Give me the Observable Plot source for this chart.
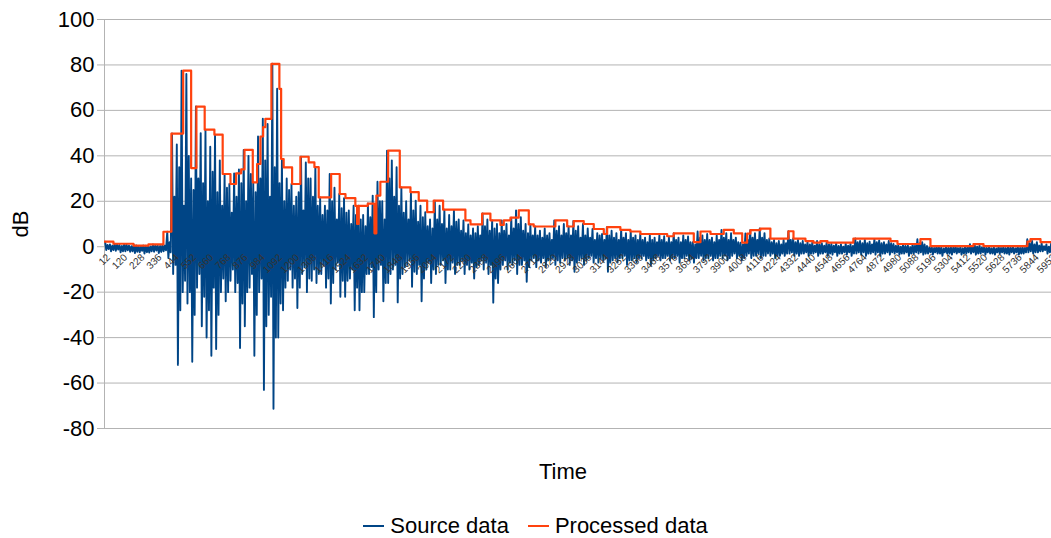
<!DOCTYPE html>
<html><head><meta charset="utf-8">
<script src="https://cdn.jsdelivr.net/npm/d3@7"></script>
<script src="https://cdn.jsdelivr.net/npm/@observablehq/plot@0.6"></script>
<style>
html,body{margin:0;padding:0;background:#fff;}
body{width:1051px;height:538px;overflow:hidden;font-family:"Liberation Sans",Arial,sans-serif;}
#legend{display:flex;justify-content:center;align-items:center;height:22px;padding-top:10px;padding-left:20px;font-size:22px;color:#000;}
.item{display:flex;align-items:center;}
.sw{width:21px;height:2.5px;margin-right:6px;}
</style></head><body>
<div id="chart"></div>
<div id="legend"></div>
<script>
// Source data: per bin of 30 samples, the largest upper and lower excursion (dB)
const binWidth = 30;
const srcHi = [
 2.2,1.0,1.3,0.8,1.2,0.5,0.8,0.3,0.5,0.2,1.0,0.6,0.9,6.6,
 49.8,45,77.5,76,30,61.7,50,51.5,44,49.3,38,32,27.6,32.3,34,42.6,
 40,28.3,48.5,56.3,54,80.5,69.5,38.6,30,27.6,22,39.6,37.1,30,35,21.7,
 18,32,26,23.2,21.4,16,18,18,14,19,22.5,28.6,20,42.3,38,35,26.1,20,
 24,20.3,18,15.2,12,20.3,18,16.3,14,16,12,11.6,9.8,8,9,14.6,12,11.6,
 10,11.6,10,12.8,16,13,10,9.8,8.9,7,8,6,11.6,9,10,8.9,11.3,9,10,8,
 7.8,6,5.6,8.6,7,6,7.4,6,6.7,5,5.6,4,5,4,5,4.6,4,5.9,4,5,4.5,2,
 6.7,5,5.6,4,5,7.4,6,5.9,4,1.8,5.8,7.3,6,8,6,3.6,3,2.5,3,6.8,3.6,3,
 2.5,2,1.8,2.5,1.5,1.8,1.2,1.5,1,1.4,1.2,3.6,2.5,3,2.2,3.4,2.8,2,2.5,
 1.2,0.8,1,0.6,1.1,3.3,2,0.3,0,0.2,-0.2,0.1,0,0.3,-0.1,0.2,1.1,0.8,
 0.5,0.3,0,-0.2,0.1,0,0.2,-0.1,0.1,0,3.3,2.5,2,1.5,1,1.5
];
const srcLo = [
 -1.5,-2,-1.8,-2.5,-2,-2.2,-2.8,-2.5,-3,-2.6,-2.2,-2.8,-2,-5,
 -12,-52,-20,-25,-50.6,-18,-35,-40,-48,-45,-20,-24,-15,-20,-44.6,-35,
 -18,-48,-20,-63,-30,-71.3,-40,-28,-15,-18,-27,-12,-20,-15,-16,-12,
 -18,-25,-10,-22,-22,-14,-28,-28,-20,-12,-31,-10,-24,-16,-10,-24.5,-12,-8,
 -17.6,-12,-24,-10,-16,-12,-8,-16,-10,-12,-8,-12,-10,-14,-8,-10,-12,-24.6,
 -16,-8,-10,-8,-12,-8,-15.4,-6,-9,-7,-9,-6,-8,-7,-6,-8,-11,-6,-8,-5,
 -7,-7,-6,-11,-6,-7,-5,-8,-6,-7,-5,-6,-8,-5,-6,-5,-6,-5,-7,-5,-6,-7,
 -5,-6,-5,-6,-5,-5,-6,-4,-5,-6,-4,-5,-4,-5,-4,-4,-5,-4,-4,-3,-4,-4,
 -3,-4,-3,-4,-3,-4,-3.5,-4,-3,-3.5,-4,-3,-3.5,-4,-3,-3.5,-4,-3,-3.5,
 -3,-3.5,-3,-4,-3,-3,-3.5,-3,-3.5,-3,-4,-3,-3.5,-3,-3.5,-3,-3,-3.5,
 -3,-3.5,-3,-3.5,-3,-3,-3.5,-3,-3.5,-3,-2.5,-3,-2.5,-2,-3,-2
];
// Source data: secondary (inner) upper and lower excursion in each bin (dB)
const coreHi = [
 0.8,0.5,1,0.3,0.9,0.2,0.6,0,0.4,0.1,0.7,0.3,0.5,2,
 22,35,18,40,25,30,
 28,20,33,24,18,26,15,22,28,20,
 32,24,30,38,22,35,28,20,25,18,
 24,16,30,22,18,14,16,20,12,17,
 15,10,14,12,9,13,16,20,12,30,
 22,18,15,12,16,11,13,9,8,12,
 10,8,9,11,7,6,5,6,5,9,
 7,8,6,7,5,8,10,7,6,5,
 5,4,5,3,7,5,6,5,7,4,
 5,4,3,5,3,5,4,3,4,3,
 4,3,3,2,3,2,3,2,2,3,
 2,3,2,1,4,3,3,2,3,4,
 3,3,2,1,3,4,3,4,3,2,
 1.5,1,1.5,3,2,1.5,1,1,0.5,1,
 0.5,1,0.5,0.3,0,0.5,0.3,2,1.5,1.5,
 1,2,1.5,1,1.5,0.5,0,0.3,-0.2,0.4,
 1.5,1,-0.3,-0.5,-0.2,-0.8,-0.5,-0.4,-0.6,-0.7,
 -0.4,0.3,0,-0.3,-0.5,-0.7,-0.8,-0.5,-0.6,-0.4,
 -0.7,-0.5,-0.6,1.5,1,0.5,0.2,0,0.3
];
const coreLo = [
 -1,-1.5,-1.2,-2,-1.6,-2,-2.2,-1.8,-2.4,-2,-1.7,-2.3,-1.6,-2.5,
 -8,-28,-15,-20,-30,-12,
 -22,-28,-18,-30,-14,-20,-10,-16,-25,-20,
 -12,-30,-14,-35,-22,-40,-25,-18,-10,-14,
 -18,-9,-14,-10,-12,-8,-14,-16,-7,-15,
 -15,-10,-18,-20,-12,-9,-20,-8,-16,-12,
 -8,-14,-9,-6,-11,-8,-14,-7,-10,-8,
 -6,-10,-7,-8,-6,-8,-7,-9,-6,-7,
 -8,-14,-10,-6,-7,-6,-8,-6,-9,-5,
 -6,-5,-6,-5,-6,-5,-5,-6,-7,-5,
 -6,-4,-5,-5,-5,-7,-5,-5,-4,-6,
 -5,-5,-4,-5,-6,-4,-5,-4,-5,-4,
 -5,-4,-5,-5,-4,-5,-4,-5,-4,-4,
 -5,-3,-4,-5,-3,-4,-3,-4,-3,-3,
 -4,-3,-3,-2.5,-3,-3,-2.5,-3,-2.5,-3,
 -2.5,-3,-2.5,-3,-2.5,-2.5,-3,-2.5,-2.5,-3,
 -2.5,-2.5,-3,-2.5,-2.5,-2.5,-3,-2.5,-3,-2.5,
 -2.5,-3,-2.5,-2.5,-3,-2.5,-3,-2.5,-2.5,-3,
 -2.5,-2.5,-3,-2.5,-2.5,-3,-2.5,-2.5,-3,-2.5,
 -2.5,-3,-2.5,-2,-2.5,-2,-1.5,-2.5,-1.5
];
// Processed data: step start sample and held level (dB)
const procT = [0,56,182,276,370,420,494,544,577,629,690,742,791,826,858,879,931,958,979,996,1010,1048,1098,1109,1125,1178,1230,1282,1318,1345,1423,1477,1513,1575,1586,1596,1653,1695,1707,1732,1781,1854,1921,1973,2026,2067,2126,2266,2298,2371,2423,2486,2507,2549,2601,2664,2695,2831,2905,2946,3009,3072,3135,3156,3239,3302,3365,3533,3574,3700,3742,3805,3888,3951,4004,4035,4056,4118,4181,4294,4326,4401,4451,4495,4539,4702,4935,4979,5123,5186,5456,5519,5795,5814,5877,5946];
const procV = [2.2,1.3,0.5,1.0,6.6,49.8,77.5,34.6,61.7,51.5,49.3,32,27.6,32.3,34,42.6,28.3,36.4,48.5,52.6,56.3,80.5,69.5,38.6,34.9,27.6,39.6,37.1,35,21.7,32,23.2,21.4,18,10,18,19,5.9,22.5,28.6,42.3,26.1,24,20.3,15.2,20.3,16.3,11.6,9.8,14.6,11.6,9.6,11.6,12.8,16,9.8,8.9,11.6,8.9,11.3,10,7.8,5.6,8.6,7.4,6.7,5.6,4.6,5.9,2,6.7,5.6,7.4,5.9,1.8,5.8,7.3,8,3.6,6.8,3.6,2.5,1.8,2.5,1.8,3.6,2.5,1.2,3.3,0.3,1.1,0.3,2.3,3.3,2,2];
const tickLabels = [12,120,228,336,444,552,660,768,876,984,1092,1200,1308,1416,1524,1632,1740,1848,1956,2064,2172,2280,2388,2496,2604,2712,2820,2928,3036,3144,3252,3360,3468,3576,3684,3792,3900,4008,4116,4224,4332,4440,4548,4656,4764,4872,4980,5088,5196,5304,5412,5520,5628,5736,5844,5952];
const yTicks = [-80,-60,-40,-20,0,20,40,60,80,100];
const seriesNames = ["Source data","Processed data"];
const seriesColors = ["#004586","#ff420e"];

const source = [];
srcHi.forEach((v, i) => {
  const t0 = i * binWidth;
  source.push({t: t0 + 4, v});
  source.push({t: t0 + 11, v: srcLo[i]});
  source.push({t: t0 + 19, v: coreHi[i]});
  source.push({t: t0 + 26, v: coreLo[i]});
});
const processed = procT.map((t, i) => ({t, v: procV[i]}));

const chart = Plot.plot({
  width: 1051, height: 505,
  marginTop: 19, marginBottom: 77, marginLeft: 104, marginRight: 0,
  style: {fontFamily: "'Liberation Sans', Arial, sans-serif", background: "#fff", overflow: "visible"},
  x: {domain: [0, 5946], axis: null},
  y: {domain: [-80, 100], axis: null},
  marks: [
    Plot.gridY(yTicks, {stroke: "#b3b3b3", strokeOpacity: 1}),
    Plot.axisY(yTicks, {tickSize: 7, tickPadding: 3, fontSize: 22, stroke: "#b3b3b3", fill: "#000", label: null, tickFormat: d => String(d)}),
    Plot.ruleX([0], {y1: -80, y2: 100, stroke: "#b3b3b3"}),
    Plot.line(source, {x: "t", y: "v", stroke: seriesColors[0], strokeWidth: 1.9, clip: true}),
    Plot.line(processed, {x: "t", y: "v", stroke: seriesColors[1], strokeWidth: 2.2, curve: "step-after", clip: true}),
    Plot.text(tickLabels, {x: d => d, y: 0, text: d => String(d), rotate: -45, textAnchor: "end", lineAnchor: "middle", fontSize: 10, fill: "#333", dx: 2, dy: 9}),
    Plot.text(["dB"], {frameAnchor: "left", textAnchor: "middle", lineAnchor: "middle", rotate: -90, dx: -84, fontSize: 22, fill: "#000"}),
    Plot.text(["Time"], {frameAnchor: "bottom", textAnchor: "middle", lineAnchor: "middle", dx: -15, dy: 43, fontSize: 22, fill: "#000"})
  ]
});
document.getElementById("chart").appendChild(chart);

const legend = document.getElementById("legend");
seriesNames.forEach((name, i) => {
  const item = document.createElement("div");
  item.className = "item";
  if (i > 0) item.style.marginLeft = "19px";
  const sw = document.createElement("span");
  sw.className = "sw";
  sw.style.background = seriesColors[i];
  const tx = document.createElement("span");
  tx.textContent = name;
  item.appendChild(sw); item.appendChild(tx);
  legend.appendChild(item);
});
</script>
</body></html>
